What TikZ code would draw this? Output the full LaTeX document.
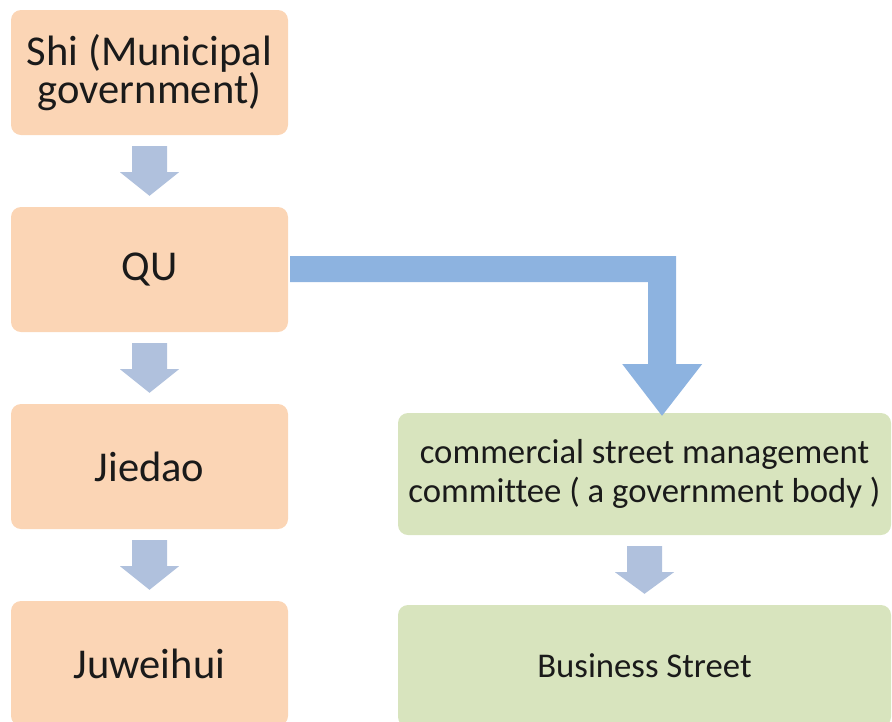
\documentclass[tikz,border=0pt]{standalone}
\usepackage{fontspec}
\setmainfont[Ligatures=NoCommon]{Carlito}
\usetikzlibrary{calc}
\definecolor{obox}{HTML}{FBD5B5}
\definecolor{gbox}{HTML}{D8E4BE}
\definecolor{sarr}{HTML}{B0C1DD}
\definecolor{larr}{HTML}{8DB3E0}
\definecolor{txt}{HTML}{1A1A1A}
\tikzset{
  orangebox/.style={fill=obox, rounded corners=10pt, minimum width=277pt, minimum height=125pt,
    text=txt, align=center, inner sep=0pt, font=\fontsize{42.5}{38.5}\selectfont},
  greenbox/.style={fill=gbox, rounded corners=10pt, minimum width=493pt, minimum height=122pt,
    text=txt, align=center, inner sep=0pt, font=\fontsize{34.7}{39}\selectfont},
  smallarrow/.style={fill=sarr},
  bigarrow/.style={fill=larr}
}
\newcommand{\downblock}[2]{%
  \fill[smallarrow] ($(#1.south)+(-17.5,11)$) -- ($(#1.south)+(17.5,11)$) -- ($(#1.south)+(17.5,37)$)
    -- ($(#1.south)+(29.5,37)$) -- ($(#2.north)+(0,-11)$) -- ($(#1.south)+(-29.5,37)$)
    -- ($(#1.south)+(-17.5,37)$) -- cycle;}
\begin{document}
\begin{tikzpicture}[x=1pt,y=-1pt]
\useasboundingbox (0,0) rectangle (892,721);
\clip (0,0) rectangle (892,721);
\node[orangebox] (shi) at (149.5,72.5) {Shi (Municipal\\government)};
\node[orangebox] (qu) at (149.5,269.5) {QU};
\node[orangebox] (jiedao) at (149.5,466.5) {Jiedao};
\node[orangebox] (juweihui) at (149.5,663.5) {Juweihui};
\node[greenbox] (csmc) at (644.5,474) {commercial street management\\committee ( a government body )};
\node[greenbox] (bs) at (644.5,666) {Business Street};
\downblock{shi}{qu}
\downblock{qu}{jiedao}
\downblock{jiedao}{juweihui}
\downblock{csmc}{bs}
\coordinate (tipL) at ($(csmc.north)+(17.5,3)$);
\fill[bigarrow] ($(qu.east)+(2,-13.5)$) -- ($(qu.east)+(388,-13.5)$) -- ($(qu.east)+(388,94.5)$)
  -- ($(qu.east)+(414,94.5)$) -- (tipL) -- ($(qu.east)+(334,94.5)$) -- ($(qu.east)+(360,94.5)$)
  -- ($(qu.east)+(360,12.5)$) -- ($(qu.east)+(2,12.5)$) -- cycle;
\end{tikzpicture}
\end{document}
